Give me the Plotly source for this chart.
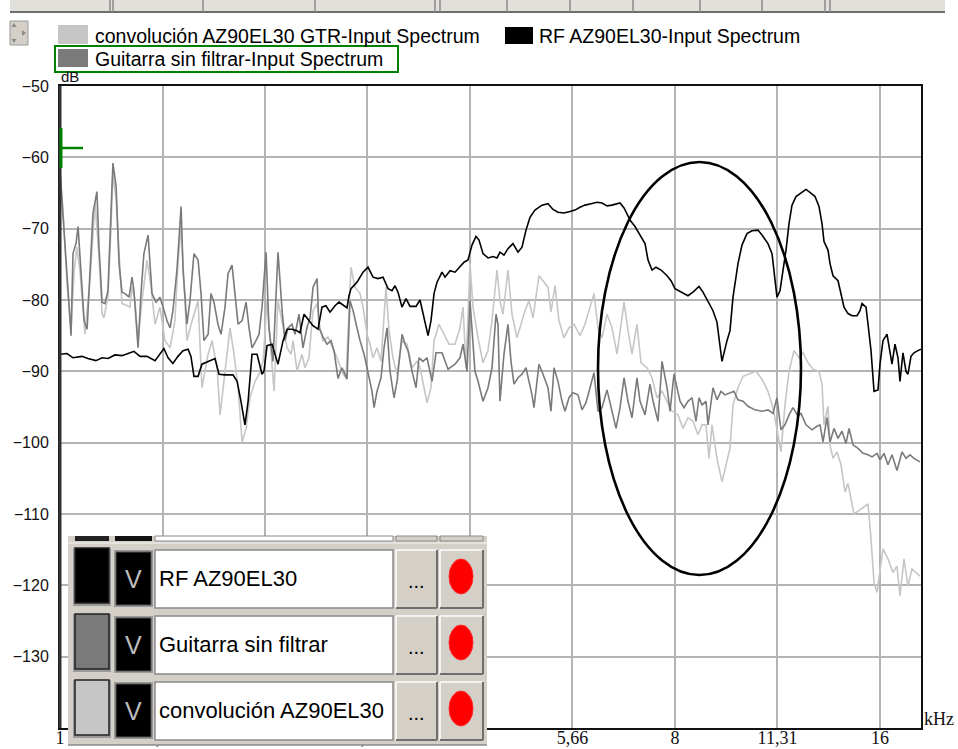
import plotly.graph_objects as go

# ---------------- data ----------------
tick_khz = [1, 1.41421, 2, 2.82843, 4, 5.65685, 8, 11.3137, 16]
tick_text = ["1", "1,41", "2", "2,83", "4", "5,66", "8", "11,31", "16"]
db_ticks = [-50, -60, -70, -80, -90, -100, -110, -120, -130]

rf_khz = [1.000, 1.024, 1.045, 1.077, 1.099, 1.129, 1.153, 1.176, 1.204, 1.233,
          1.259, 1.284, 1.311, 1.342, 1.379, 1.402, 1.421, 1.441, 1.465, 1.490,
          1.516, 1.542, 1.557, 1.573, 1.595, 1.616, 1.650, 1.689, 1.712, 1.747,
          1.795, 1.820, 1.844, 1.869, 1.889, 1.914, 1.947, 1.980, 1.993, 2.014,
          2.048, 2.090, 2.126, 2.155, 2.191, 2.229, 2.251, 2.282, 2.313, 2.352,
          2.393, 2.425, 2.458, 2.492, 2.534, 2.569, 2.604, 2.639, 2.657, 2.675,
          2.730, 2.786, 2.833, 2.882, 2.931, 2.981, 3.032, 3.073, 3.104, 3.136,
          3.178, 3.222, 3.266, 3.333, 3.378, 3.413, 3.471, 3.506, 3.542, 3.578,
          3.639, 3.676, 3.739, 3.803, 3.867, 3.920, 3.973, 4.027, 4.082, 4.124,
          4.180, 4.251, 4.324, 4.382, 4.427, 4.487, 4.548, 4.626, 4.705, 4.769,
          4.834, 4.900, 4.983, 5.102, 5.207, 5.296, 5.386, 5.496, 5.609, 5.705,
          5.802, 5.901, 6.022, 6.146, 6.250, 6.357, 6.466, 6.554, 6.643, 6.734,
          6.872, 6.988, 7.108, 7.229, 7.303, 7.402, 7.503, 7.631, 7.788, 7.893,
          8.000, 8.192, 8.359, 8.502, 8.677, 8.794, 8.945, 9.097, 9.220, 9.283,
          9.378, 9.538, 9.635, 9.734, 9.899, 10.034, 10.205, 10.379, 10.591, 10.736,
          10.956, 11.106, 11.181, 11.294, 11.410, 11.487, 11.645, 11.763, 11.882, 12.045,
          12.250, 12.458, 12.629, 12.844, 13.019, 13.152, 13.241, 13.421, 13.513, 13.650,
          13.883, 14.025, 14.168, 14.360, 14.557, 14.805, 14.955, 15.057, 15.262, 15.366,
          15.522, 15.681, 15.893, 16.000, 16.163, 16.384, 16.550, 16.663, 16.832, 17.005,
          17.120, 17.294, 17.470, 17.589, 17.768, 17.949, 18.194, 18.379]
rf_db = [-87.6, -87.5, -88.1, -87.9, -88.2, -88.5, -88.1, -88.2, -87.7, -87.8,
         -87.5, -87.2, -87.9, -87.9, -88.5, -87.6, -86.8, -88.1, -88.9, -87.9,
         -87.1, -86.9, -87.9, -90.7, -90.7, -89.0, -88.6, -88.2, -90.4, -90.5,
         -90.5, -91.4, -94.2, -97.5, -94.2, -87.6, -87.6, -90.4, -90.0, -86.4,
         -86.2, -89.0, -85.7, -84.1, -84.1, -84.3, -84.6, -82.0, -82.7, -83.6,
         -84.1, -81.0, -80.8, -81.7, -80.8, -80.3, -80.7, -81.1, -79.4, -78.4,
         -77.5, -76.1, -75.4, -76.8, -77.0, -76.8, -78.4, -78.7, -78.0, -78.9,
         -81.0, -79.8, -80.9, -80.9, -80.0, -82.0, -85.0, -82.9, -79.1, -77.5,
         -76.1, -76.8, -75.9, -76.1, -75.4, -74.7, -74.4, -72.3, -71.1, -71.6,
         -73.5, -74.1, -73.9, -74.1, -73.3, -73.7, -72.8, -72.1, -73.3, -72.6,
         -70.2, -68.4, -67.4, -66.7, -66.5, -67.3, -67.7, -67.8, -67.6, -67.4,
         -67.0, -66.7, -66.5, -66.3, -66.4, -66.8, -66.7, -66.5, -66.4, -67.1,
         -68.8, -69.7, -70.9, -72.1, -74.4, -75.8, -75.4, -75.8, -76.6, -77.3,
         -78.4, -78.9, -79.4, -78.9, -78.1, -78.9, -80.3, -81.5, -83.1, -85.3,
         -88.6, -85.7, -84.3, -79.6, -74.9, -72.3, -70.7, -70.3, -70.2, -70.9,
         -72.1, -73.5, -75.8, -79.6, -78.7, -76.8, -73.0, -69.3, -66.7, -65.5,
         -65.0, -64.5, -64.9, -65.5, -66.9, -69.3, -71.8, -73.0, -74.9, -76.6,
         -77.3, -79.1, -81.0, -81.9, -82.2, -82.2, -81.5, -80.5, -81.0, -83.4,
         -87.1, -92.8, -92.6, -89.0, -85.7, -84.8, -87.1, -89.0, -86.2, -88.1,
         -91.4, -87.4, -90.0, -90.4, -87.9, -87.4, -87.1, -86.9]

gtr_khz = [1.000, 1.010, 1.024, 1.038, 1.045, 1.056, 1.063, 1.077, 1.085, 1.096,
           1.107, 1.118, 1.133, 1.141, 1.153, 1.164, 1.176, 1.188, 1.196, 1.209,
           1.221, 1.233, 1.246, 1.263, 1.276, 1.284, 1.302, 1.315, 1.328, 1.347,
           1.356, 1.365, 1.384, 1.402, 1.417, 1.436, 1.451, 1.465, 1.485, 1.506,
           1.516, 1.536, 1.552, 1.573, 1.595, 1.611, 1.627, 1.650, 1.666, 1.683,
           1.706, 1.724, 1.747, 1.765, 1.789, 1.807, 1.826, 1.851, 1.876, 1.895,
           1.914, 1.940, 1.960, 1.980,
           2.007, 2.027, 2.055, 2.090, 2.119, 2.140, 2.162, 2.191, 2.214, 2.244,
           2.274, 2.305, 2.329, 2.353, 2.385, 2.401, 2.434, 2.467, 2.500, 2.526,
           2.560, 2.595, 2.622, 2.639, 2.666, 2.694, 2.730, 2.758, 2.796, 2.834,
           2.872, 2.892, 2.921, 2.961, 2.991, 3.022, 3.052, 3.094, 3.126, 3.179,
           3.211, 3.244, 3.288, 3.333, 3.367, 3.413, 3.459, 3.518, 3.566, 3.639,
           3.714, 3.803, 3.867, 3.907, 3.960, 4.000,
           4.068, 4.110, 4.180, 4.251, 4.309, 4.368, 4.397, 4.427, 4.487, 4.548,
           4.595, 4.642, 4.705, 4.769, 4.834, 4.883, 4.933, 4.966, 5.051, 5.120,
           5.207, 5.260, 5.314, 5.386, 5.460, 5.515, 5.590, 5.666, 5.763, 5.842,
           5.921, 6.002, 6.084, 6.166, 6.250, 6.357, 6.444, 6.554, 6.643, 6.734,
           6.825, 6.918, 7.036, 7.108, 7.229, 7.352, 7.428, 7.554, 7.657, 7.788,
           7.867, 7.973,
           8.137, 8.247, 8.359, 8.474, 8.589, 8.677, 8.765, 8.884, 8.945, 9.097,
           9.220, 9.346, 9.474, 9.635, 9.766, 9.899, 10.068, 10.239, 10.485, 10.736,
           10.956, 11.143, 11.294, 11.448, 11.605, 11.763, 11.923, 12.126, 12.250, 12.458,
           12.714, 12.931, 13.063, 13.197, 13.376, 13.513, 13.697, 13.883, 14.072, 14.264,
           14.410, 14.606, 14.855, 15.108, 15.366, 15.575, 15.840, 16.000, 16.218, 16.440,
           16.663, 16.947, 17.237, 17.470, 17.709, 17.949, 18.317]
gtr_db = [-61.7, -67.8, -76.8, -85.0, -73.5, -72.0, -69.7, -79.1, -82.9, -84.1,
          -75.8, -67.8, -64.8, -72.6, -80.3, -80.5, -78.7, -68.8, -60.8, -64.1,
          -74.9, -78.9, -79.1, -79.6, -76.8, -78.7, -86.7, -79.1, -73.5, -70.9,
          -74.4, -79.1, -80.3, -79.6, -81.0, -82.9, -83.9, -81.5, -75.8, -66.9,
          -75.8, -83.4, -80.1, -73.5, -74.4, -79.1, -85.7, -84.8, -79.1, -80.3,
          -83.4, -84.8, -81.0, -76.3, -75.1, -79.1, -83.4, -82.9, -80.3, -83.9,
          -86.7, -85.7, -84.8, -81.0,
          -73.3, -83.9, -88.6, -73.3, -81.5, -85.7, -83.9, -83.4, -84.8, -82.0,
          -86.7, -83.9, -82.5, -78.2, -77.0, -83.9, -85.2, -86.2, -85.7, -87.1,
          -91.0, -89.5, -90.4, -91.1, -80.1, -81.5, -83.9, -85.7, -87.6, -90.4,
          -92.8, -95.1, -92.8, -90.9, -86.7, -83.9, -90.0, -93.7, -91.4, -84.8,
          -86.2, -87.1, -90.0, -92.3, -88.1, -88.6, -88.1, -91.4, -87.4, -87.4,
          -89.7, -89.0, -88.1, -86.2, -90.0, -80.1,
          -90.0, -91.4, -94.2, -92.3, -89.5, -82.0, -83.4, -94.2, -87.6, -83.4,
          -88.6, -91.8, -90.9, -90.4, -89.5, -91.4, -93.3, -95.1, -89.0, -90.4,
          -92.3, -95.6, -89.5, -91.4, -94.2, -95.6, -93.7, -93.0, -93.3, -95.4,
          -94.4, -92.3, -90.2, -95.6, -95.1, -92.6, -95.1, -98.0, -95.1, -90.9,
          -94.2, -96.5, -90.9, -94.2, -96.1, -91.8, -94.2, -97.0, -88.6, -92.3,
          -95.6, -90.4,
          -94.2, -95.1, -94.2, -93.7, -97.0, -93.7, -94.7, -94.2, -97.5, -92.3,
          -94.0, -92.8, -93.3, -93.0, -92.8, -94.0, -94.2, -94.9, -95.4, -95.6,
          -95.4, -95.9, -93.7, -98.2, -97.5, -96.1, -95.1, -96.3, -95.9, -97.5,
          -98.2, -97.7, -97.5, -99.9, -96.5, -99.9, -98.0, -99.4, -98.4, -100.1,
          -98.0, -100.3, -100.8, -101.5, -101.7, -102.0, -101.5, -102.4, -101.5, -103.1,
          -101.7, -103.9, -101.3, -102.2, -101.7, -102.2, -102.7]

conv_khz = [1.000, 1.010, 1.024, 1.038, 1.049, 1.059, 1.070, 1.088, 1.107, 1.126,
            1.141, 1.153, 1.160, 1.176, 1.188, 1.196, 1.209, 1.225, 1.233, 1.250,
            1.267, 1.276, 1.289, 1.302, 1.320, 1.342, 1.360, 1.379, 1.402, 1.426,
            1.451, 1.475, 1.490, 1.506, 1.521, 1.536, 1.563, 1.595, 1.616, 1.650,
            1.672, 1.701, 1.718, 1.747, 1.777, 1.801, 1.826, 1.851, 1.876, 1.901,
            1.934, 1.960, 1.987,
            2.014, 2.034, 2.062, 2.090, 2.126, 2.155, 2.184, 2.199, 2.229, 2.266,
            2.290, 2.321, 2.352, 2.384, 2.409, 2.433, 2.475, 2.517, 2.551, 2.604,
            2.630, 2.675, 2.711, 2.758, 2.786, 2.824, 2.852, 2.882, 2.921, 2.961,
            3.011, 3.042, 3.083, 3.125, 3.178, 3.233, 3.288, 3.344, 3.378, 3.424,
            3.459, 3.506, 3.542, 3.602, 3.664, 3.726, 3.803, 3.867, 3.907, 3.947,
            4.000, 4.041, 4.110, 4.180, 4.251, 4.309, 4.382, 4.427, 4.472, 4.548,
            4.610, 4.689, 4.753, 4.818, 4.883, 4.950, 5.051, 5.120, 5.207, 5.260,
            5.332, 5.404, 5.496, 5.590, 5.686, 5.802, 5.901, 6.002, 6.084, 6.166,
            6.250, 6.357, 6.466, 6.576, 6.666, 6.734, 6.825, 6.918, 7.036, 7.132,
            7.278, 7.402, 7.528, 7.657, 7.788, 7.920,
            8.082, 8.220, 8.359, 8.502, 8.647, 8.765, 8.884, 8.974, 9.066, 9.220,
            9.378, 9.506, 9.635, 9.734, 9.899, 10.068, 10.274, 10.520, 10.736, 10.956,
            11.143, 11.294, 11.448, 11.605, 11.763, 11.963, 12.167, 12.333, 12.543, 12.757,
            13.019, 13.152, 13.241, 13.421, 13.513, 13.650, 13.837, 14.025, 14.216, 14.360,
            14.507, 14.655, 14.905, 15.159, 15.366, 15.522, 15.681, 15.840, 16.000, 16.163,
            16.440, 16.718, 16.947, 17.120, 17.353, 17.589, 17.829, 18.071, 18.317]
conv_db = [-62.0, -67.5, -77.5, -84.0, -76.0, -72.6, -76.0, -84.8, -77.0, -66.4,
           -74.0, -82.0, -82.5, -79.5, -70.0, -62.2, -66.0, -76.0, -80.5, -80.7,
           -81.0, -78.2, -80.0, -85.7, -80.0, -74.4, -78.0, -83.4, -81.0, -85.7,
           -86.7, -82.9, -75.0, -69.7, -78.0, -85.7, -82.9, -80.1, -92.3, -87.6,
           -85.7, -89.5, -96.1, -90.4, -83.9, -87.6, -92.3, -99.9, -98.0, -93.7,
           -91.4, -90.4, -88.6,
           -80.1, -85.7, -92.8, -80.1, -83.9, -86.7, -87.6, -85.7, -90.0, -87.6,
           -89.5, -88.1, -81.5, -80.5, -83.9, -85.7, -85.2, -86.7, -88.1, -90.4,
           -90.9, -75.4, -78.2, -79.1, -81.0, -84.8, -86.2, -88.1, -86.7, -88.6,
           -78.2, -84.3, -88.1, -90.4, -85.7, -86.2, -89.5, -88.6, -89.5, -92.3,
           -94.4, -92.3, -85.7, -83.4, -84.8, -86.2, -86.2, -83.9, -81.0, -89.5,
           -74.9, -81.0, -85.3, -88.8, -87.1, -82.9, -75.8, -80.1, -82.0, -75.8,
           -82.0, -85.3, -83.4, -81.5, -80.1, -82.5, -76.6, -77.3, -78.2, -81.7,
           -78.0, -82.9, -85.3, -83.9, -83.4, -85.0, -83.4, -81.0, -79.1, -83.9,
           -85.3, -82.0, -83.9, -87.6, -83.4, -80.3, -84.3, -87.6, -83.4, -88.8,
           -89.5, -90.9, -93.7, -92.8, -94.2, -95.6,
           -96.1, -98.0, -96.5, -97.0, -98.9, -97.5, -97.5, -102.2, -97.5, -102.2,
           -105.5, -103.1, -100.8, -94.7, -92.3, -90.7, -90.4, -90.0, -91.1, -92.8,
           -95.1, -98.4, -101.3, -94.7, -90.0, -87.1, -88.1, -87.4, -88.8, -89.7,
           -90.0, -91.8, -97.5, -94.9, -100.3, -102.2, -101.3, -103.1, -106.9, -105.7,
           -107.9, -110.0, -109.5, -109.0, -108.6, -113.5, -119.6, -121.0, -118.2, -114.9,
           -116.3, -118.2, -117.3, -121.5, -116.3, -120.1, -117.7, -118.2, -118.7]

series_names = ["convolución AZ90EL30 GTR-Input Spectrum",
                "Guitarra sin filtrar-Input Spectrum",
                "RF AZ90EL30-Input Spectrum"]
panel_labels = ["RF AZ90EL30", "Guitarra sin filtrar", "convolución AZ90EL30"]

# ---------------- styling ----------------
C_CONV, C_GTR, C_RF = "#c6c6c6", "#7a7a7a", "#000000"
WIN_GRAY = "#d4d0c8"
SANS = "Liberation Sans, Arial, sans-serif"
SERIF = "Liberation Serif, Times New Roman, serif"

W, H = 958, 749
L, R, T, B = 60, 921, 86, 728


def px(x):
    return (x - L) / (R - L)


def py(y):
    return (B - y) / (B - T)


shapes = []
annotations = []


def rect(x0, y0, x1, y1, fill, line="rgba(0,0,0,0)", lw=0):
    shapes.append(dict(type="rect", xref="paper", yref="paper",
                       x0=px(x0), x1=px(x1), y0=py(y1), y1=py(y0),
                       fillcolor=fill, line=dict(color=line, width=lw), layer="above"))


def seg(x0, y0, x1, y1, color, lw=1):
    shapes.append(dict(type="line", xref="paper", yref="paper",
                       x0=px(x0), x1=px(x1), y0=py(y0), y1=py(y1),
                       line=dict(color=color, width=lw), layer="above"))


def bevel(x0, y0, x1, y1, fill):
    rect(x0, y0, x1, y1, fill)
    seg(x0, y0, x1, y0, "#ffffff", 1.5)
    seg(x0, y0, x0, y1, "#ffffff", 1.5)
    seg(x0, y1, x1, y1, "#6e6e6e", 2)
    seg(x1, y0, x1, y1, "#6e6e6e", 2)


def text(x, y, s, size, color="#000", family=SANS, xanchor="left"):
    annotations.append(dict(xref="paper", yref="paper", x=px(x), y=py(y), text=s,
                            showarrow=False, xanchor=xanchor, yanchor="middle",
                            font=dict(size=size, color=color, family=family)))


fig = go.Figure()
for xs, ys, col, nm in [(conv_khz, conv_db, C_CONV, series_names[0]),
                        (gtr_khz, gtr_db, C_GTR, series_names[1]),
                        (rf_khz, rf_db, C_RF, series_names[2])]:
    fig.add_trace(go.Scatter(x=xs, y=ys, mode="lines", name=nm, showlegend=False,
                             line=dict(color=col, width=1.6), hoverinfo="skip"))

# heavier left frame edge
seg(L, T, L, B, "#333", 3)

# toolbar strip across the top
rect(10, 0, 945, 12, "#e2e0da")
seg(10, 12, 945, 12, "#6e6e6e", 2)
for xs in [110, 113, 203, 315, 435, 440, 507, 570, 633, 700, 762, 825, 830]:
    seg(xs, 0, xs, 12, "#8a8a8a", 1.5)

# small scroll widget at top-left
rect(10, 21, 28, 45, WIN_GRAY, "#9a9a9a", 1)
for path in [f"M {px(14)} {py(23)} L {px(11.5)} {py(27)} L {px(16.5)} {py(27)} Z",
             f"M {px(14)} {py(43)} L {px(11.5)} {py(39)} L {px(16.5)} {py(39)} Z",
             f"M {px(26)} {py(33)} L {px(22)} {py(30)} L {px(22)} {py(36)} Z"]:
    shapes.append(dict(type="path", xref="paper", yref="paper", layer="above",
                       path=path, fillcolor="#8a8a8a", line=dict(width=0)))

# legend
rect(58, 25, 88, 44, C_CONV)
text(93, 36, series_names[0], 19.5)
rect(505, 27, 533, 44, C_RF)
text(537, 36, series_names[2], 19.5)
rect(55, 46, 398, 72, "rgba(0,0,0,0)", "#008000", 2)
rect(58, 49, 88, 67, C_GTR)
text(93, 59.5, series_names[1], 19.5)

# axis captions
text(59, 76, "dB", 15, "#111", SANS)
text(922, 719, "kHz", 18, "#111", SERIF)

# green cursor mark at the left edge
seg(61, 128, 61, 168, "#008000", 3)
seg(61, 148, 83, 148, "#008000", 2.5)

# highlight ellipse
shapes.append(dict(type="circle", xref="paper", yref="paper",
                   x0=px(598), x1=px(801), y0=py(575), y1=py(162),
                   line=dict(color="#000", width=2.6), layer="above"))

# channel panel
rect(68, 536, 487, 745, WIN_GRAY)
seg(68, 745, 487, 745, "#8a8a8a", 1.5)
rect(75, 536, 109, 541, "#222")
rect(115, 536, 152, 541, "#111")
rect(155, 536, 393, 541, "#ffffff", "#888", 1)
rect(396, 536, 437, 541, WIN_GRAY, "#888", 1)
rect(440, 536, 483, 541, WIN_GRAY, "#888", 1)
seg(68, 543, 487, 543, "#f4f4f4", 1)
swatches = [C_RF, C_GTR, C_CONV]
for i, (lab, sw) in enumerate(zip(panel_labels, swatches)):
    y0 = 548 + 66 * i
    rect(73, y0, 111, y0 + 58, "#9a9a9a")
    rect(75, y0, 109, y0 + 55, sw, "#222", 1.5)
    rect(114, y0 + 2, 153, y0 + 59, "#9a9a9a")
    rect(116, y0 + 4, 151, y0 + 57, "#000", "#555", 1)
    text(133.5, y0 + 31, "V", 25, "#bdbdbd", SANS, "center")
    rect(155, y0 + 2, 393, y0 + 60, "#ffffff", "#8a8a8a", 1.5)
    text(157, y0 + 30, lab, 22, "#000", SANS)
    bevel(396, y0 + 2, 437, y0 + 60, WIN_GRAY)
    text(416.5, y0 + 33, "...", 20, "#000", SANS, "center")
    bevel(440, y0 + 2, 483, y0 + 60, WIN_GRAY)
    shapes.append(dict(type="circle", xref="paper", yref="paper", layer="above",
                       x0=px(449), x1=px(473), y0=py(y0 + 46), y1=py(y0 + 11),
                       fillcolor="#ff0000", line=dict(color="#ff2a2a", width=1)))

fig.update_layout(
    width=W, height=H,
    margin=dict(l=L, r=W - R, t=T, b=H - B, autoexpand=False),
    paper_bgcolor="#ffffff", plot_bgcolor="#ffffff",
    shapes=shapes, annotations=annotations,
    xaxis=dict(type="log", range=[0, 1.26435], tickvals=tick_khz, ticktext=tick_text,
               showgrid=True, gridcolor="#b4b4b4", gridwidth=1.5, zeroline=False,
               showline=True, mirror=True, linecolor="#111", linewidth=2,
               ticks="", ticklabelstandoff=-8, automargin=False,
               tickfont=dict(family=SERIF, size=18, color="#111")),
    yaxis=dict(range=[-140, -50], tickvals=db_ticks,
               showgrid=True, gridcolor="#b4b4b4", gridwidth=1.5, zeroline=False,
               showline=True, mirror=True, linecolor="#111", linewidth=2,
               ticks="", ticklabelstandoff=6, automargin=False,
               tickfont=dict(family=SANS, size=16, color="#111")),
)

fig.write_html("out.html")
